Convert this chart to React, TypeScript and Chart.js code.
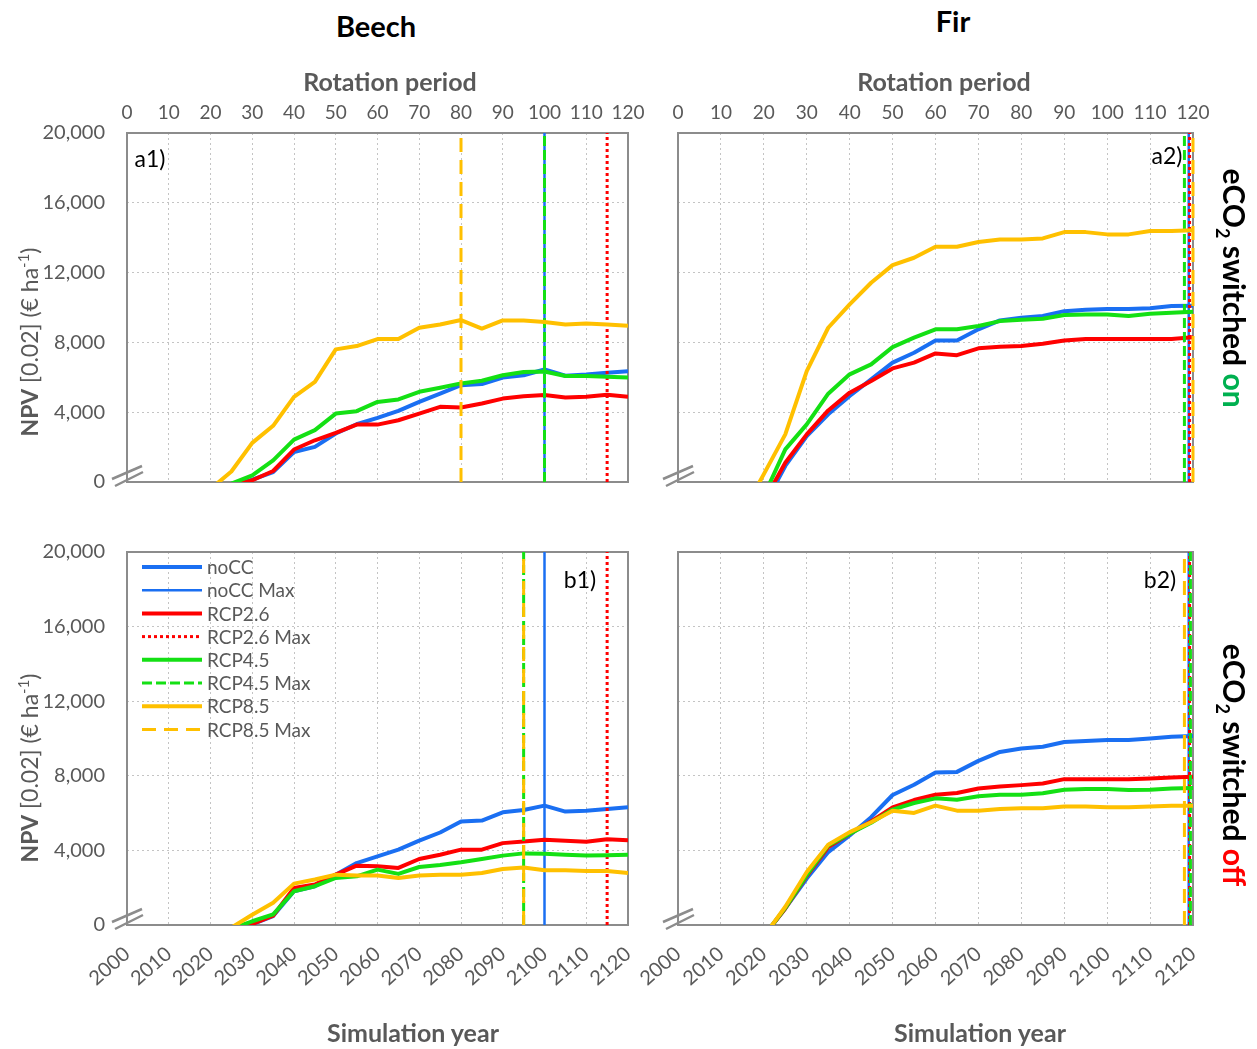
import { useEffect, useRef } from "react";
import { Chart, registerables } from "chart.js";

Chart.register(...registerables);

// Simulation years (rotation period = year - 2000)
const YEARS = [
  2015, 2020, 2025, 2030, 2035, 2040, 2045, 2050, 2055, 2060, 2065,
  2070, 2075, 2080, 2085, 2090, 2095, 2100, 2105, 2110, 2115, 2120,
];
const SCENARIOS = ["noCC", "RCP2.6", "RCP4.5", "RCP8.5"];
const COLORS = ["#1a6ff2", "#ff0000", "#14e014", "#ffc000"];
const MAX_DASH: number[][] = [[], [3, 3], [10, 4], [14, 8]];

// Beech, eCO2 switched on
const beechOnNoCC = [-800, -500, -200, 130, 570, 1720, 2010, 2780, 3310, 3670, 4080, 4590, 5070, 5550, 5610, 5990, 6120, 6450, 6090, 6160, 6260, 6350];
const beechOnRcp26 = [-800, -520, -230, 100, 630, 1860, 2390, 2810, 3290, 3290, 3540, 3920, 4310, 4270, 4500, 4780, 4920, 4980, 4840, 4880, 5000, 4880];
const beechOnRcp45 = [-700, -400, -95, 380, 1240, 2430, 2970, 3920, 4060, 4590, 4730, 5170, 5400, 5650, 5800, 6120, 6300, 6330, 6070, 6070, 6030, 5990];
const beechOnRcp85 = [-700, -400, 600, 2240, 3220, 4880, 5740, 7600, 7790, 8190, 8190, 8840, 9030, 9280, 8790, 9260, 9250, 9170, 9030, 9090, 9030, 8960];
const beechOnMax = [2100, 2115, 2100, 2080];

// Beech, eCO2 switched off
const beechOffNoCC = [-800, -500, -170, 40, 480, 1810, 2080, 2700, 3320, 3680, 4040, 4520, 4960, 5550, 5600, 6040, 6170, 6400, 6080, 6130, 6220, 6310];
const beechOffRcp26 = [-800, -500, -160, 50, 500, 1990, 2170, 2700, 3180, 3150, 3060, 3540, 3770, 4040, 4040, 4390, 4480, 4570, 4520, 4460, 4600, 4550];
const beechOffRcp45 = [-700, -450, -200, 200, 570, 1810, 2080, 2520, 2610, 2970, 2740, 3110, 3220, 3360, 3540, 3720, 3840, 3820, 3770, 3720, 3740, 3770];
const beechOffRcp85 = [-700, -420, -140, 550, 1190, 2220, 2440, 2700, 2650, 2650, 2520, 2650, 2700, 2700, 2790, 3000, 3080, 2930, 2930, 2900, 2900, 2790];
const beechOffMax = [2100, 2115, 2095, 2095];

// Fir, eCO2 switched on
const firOnNoCC = [-2500, -1380, 920, 2630, 3880, 4930, 5880, 6840, 7410, 8110, 8110, 8750, 9260, 9410, 9510, 9790, 9870, 9910, 9910, 9960, 10080, 10100];
const firOnRcp26 = [-2400, -1100, 1100, 2730, 4100, 5120, 5790, 6510, 6840, 7370, 7270, 7660, 7750, 7790, 7920, 8110, 8190, 8190, 8190, 8190, 8200, 8300];
const firOnRcp45 = [-2200, -800, 1870, 3300, 5060, 6170, 6740, 7730, 8270, 8750, 8750, 8940, 9220, 9300, 9360, 9570, 9600, 9600, 9510, 9640, 9700, 9760];
const firOnRcp85 = [-1800, 450, 2730, 6360, 8840, 10180, 11420, 12430, 12850, 13480, 13480, 13750, 13900, 13900, 13960, 14320, 14320, 14190, 14190, 14380, 14380, 14420];
const firOnMax = [2119, 2119.2, 2118, 2120];

// Fir, eCO2 switched off
const firOffNoCC = [-2000, -590, 890, 2490, 3910, 4800, 5780, 6970, 7520, 8180, 8210, 8800, 9280, 9460, 9560, 9810, 9870, 9920, 9920, 10000, 10100, 10130];
const firOffRcp26 = [-2000, -590, 890, 2630, 4180, 4890, 5550, 6310, 6700, 6990, 7080, 7320, 7430, 7500, 7590, 7820, 7820, 7820, 7820, 7860, 7910, 7950];
const firOffRcp45 = [-2000, -600, 920, 2670, 4270, 4890, 5480, 6190, 6540, 6790, 6720, 6900, 6990, 6990, 7060, 7250, 7290, 7290, 7240, 7250, 7320, 7340];
const firOffRcp85 = [-2000, -620, 980, 2840, 4300, 4980, 5510, 6130, 6010, 6400, 6130, 6130, 6220, 6260, 6260, 6360, 6360, 6310, 6310, 6360, 6400, 6400];
const firOffMax = [2119, 2119.2, 2119.4, 2118];

const FONT = "Lato, 'Open Sans', sans-serif";
const AXIS_GREY = "#595959";
const GRID_GREY = "#c4c4c4";

type Area = { left: number; top: number; right: number; bottom: number };

type PanelProps = {
  x: number;
  y: number;
  w: number;
  h: number;
  area: Area; // plot area in page coordinates
  series: number[][];
  maxYears: number[];
  axis: "top" | "bottom";
  yLabels: boolean;
  legend: boolean;
};

const framePlugin = {
  id: "frame",
  beforeDatasetsDraw(chart: any) {
    const { ctx, chartArea: a } = chart;
    ctx.save();
    ctx.strokeStyle = "#8c8c8c";
    ctx.lineWidth = 2;
    ctx.strokeRect(a.left, a.top, a.right - a.left, a.bottom - a.top);
    // axis break marks at the foot of the value axis
    ctx.lineWidth = 2.5;
    ctx.beginPath();
    ctx.moveTo(a.left - 15, a.bottom - 3);
    ctx.lineTo(a.left + 15, a.bottom - 16);
    ctx.moveTo(a.left - 12, a.bottom + 4);
    ctx.lineTo(a.left + 16, a.bottom - 10);
    ctx.stroke();
    ctx.restore();
  },
};

const legendPlugin = {
  id: "insideLegend",
  afterDatasetsDraw(chart: any) {
    const { ctx, chartArea: a } = chart;
    chart.data.datasets.forEach((ds: any, i: number) => {
      const y = a.top + 15 + i * 23.2;
      ctx.save();
      ctx.strokeStyle = ds.borderColor;
      ctx.lineWidth = ds.borderWidth;
      ctx.setLineDash(ds.borderDash || []);
      ctx.beginPath();
      ctx.moveTo(a.left + 15, y);
      ctx.lineTo(a.left + 75, y);
      ctx.stroke();
      ctx.setLineDash([]);
      ctx.fillStyle = AXIS_GREY;
      ctx.font = `19px ${FONT}`;
      ctx.textBaseline = "middle";
      ctx.fillText(ds.label, a.left + 80, y + 1);
      ctx.restore();
    });
  },
};

function Panel(p: PanelProps) {
  const ref = useRef<HTMLCanvasElement>(null);

  useEffect(() => {
    const canvas = ref.current;
    if (!canvas) return;
    const yWidth = p.area.left - p.x;
    const padRight = p.x + p.w - p.area.right;
    const topGap = p.area.top - p.y;
    const bottomGap = p.y + p.h - p.area.bottom;

    const datasets: any[] = [];
    SCENARIOS.forEach((name, s) => {
      datasets.push({
        label: name,
        data: YEARS.map((yr, i) => ({ x: yr, y: p.series[s][i] })),
        borderColor: COLORS[s],
        borderWidth: 4,
        pointRadius: 0,
        tension: 0,
        borderJoinStyle: "round",
        order: 20 - datasets.length,
      });
      datasets.push({
        label: `${name} Max`,
        data: [
          { x: p.maxYears[s], y: 0 },
          { x: p.maxYears[s], y: 20000 },
        ],
        borderColor: COLORS[s],
        borderWidth: s === 0 ? 2.5 : 3,
        borderDash: MAX_DASH[s],
        pointRadius: 0,
        clip: 6,
        order: 20 - datasets.length,
      });
    });

    const chart = new Chart(canvas, {
      type: "line",
      data: { datasets },
      options: {
        animation: false,
        responsive: false,
        devicePixelRatio: 1,
        layout: {
          padding: {
            left: 0,
            right: padRight,
            top: p.axis === "bottom" ? topGap : 0,
            bottom: p.axis === "top" ? bottomGap : 0,
          },
        },
        plugins: { legend: { display: false }, tooltip: { enabled: false } },
        scales: {
          x: {
            type: "linear",
            position: p.axis,
            min: 2000,
            max: 2120,
            afterFit: (scale: any) => {
              scale.height = p.axis === "top" ? topGap : bottomGap;
              scale.paddingLeft = 0;
              scale.paddingRight = 0;
            },
            ticks: {
              stepSize: 10,
              autoSkip: false,
              padding: p.axis === "top" ? 9 : 17,
              minRotation: p.axis === "top" ? 0 : 41,
              maxRotation: p.axis === "top" ? 0 : 41,
              color: AXIS_GREY,
              font: { family: FONT, size: p.axis === "top" ? 19 : 20 },
              callback: (v: any) => (p.axis === "top" ? String(Number(v) - 2000) : String(v)),
            },
            grid: { color: GRID_GREY, lineWidth: 1, drawTicks: false },
            border: { display: false, dash: [2, 3] },
          },
          y: {
            type: "linear",
            min: 0,
            max: 20000,
            afterFit: (scale: any) => {
              scale.width = yWidth;
              scale.paddingTop = 0;
              scale.paddingBottom = 0;
            },
            ticks: {
              stepSize: 4000,
              display: p.yLabels,
              padding: 22,
              color: AXIS_GREY,
              font: { family: FONT, size: 20 },
              callback: (v: any) => Number(v).toLocaleString("en-US"),
            },
            grid: { color: GRID_GREY, lineWidth: 1, drawTicks: false },
            border: { display: false, dash: [2, 3] },
          },
        },
      } as any,
      plugins: p.legend ? [framePlugin, legendPlugin] : [framePlugin],
    });
    return () => chart.destroy();
  }, []);

  return (
    <canvas
      ref={ref}
      width={p.w}
      height={p.h}
      style={{ position: "absolute", left: p.x, top: p.y, width: p.w, height: p.h }}
    />
  );
}

const textBase: any = {
  position: "absolute",
  whiteSpace: "nowrap",
  fontFamily: FONT,
  lineHeight: 1,
};

function Label(props: { x: number; y: number; rot?: number; style?: any; children: any }) {
  return (
    <div
      style={{
        ...textBase,
        left: props.x,
        top: props.y,
        transform: `translate(-50%, -50%) rotate(${props.rot || 0}deg)`,
        ...props.style,
      }}
    >
      {props.children}
    </div>
  );
}

const titleStyle = { fontWeight: 700, fontSize: 29, color: "#000" };
const axisTitleStyle = { fontWeight: 700, fontSize: 25, color: AXIS_GREY };
const tagStyle = { fontSize: 23, color: "#000" };
const sideStyle = { fontWeight: 700, fontSize: 30, color: "#000" };
const npvStyle = { fontSize: 23, color: AXIS_GREY };

function NpvTitle() {
  return (
    <span>
      <b>NPV</b> [0.02] (€ ha<sup style={{ fontSize: "0.65em" }}>-1</sup>)
    </span>
  );
}

export default function App() {
  const aArea1 = { left: 127, top: 133, right: 628, bottom: 482 };
  const aArea2 = { left: 678, top: 133, right: 1193, bottom: 482 };
  const bArea1 = { left: 127, top: 552, right: 628, bottom: 925 };
  const bArea2 = { left: 678, top: 552, right: 1193, bottom: 925 };

  return (
    <div
      style={{
        position: "fixed",
        left: 0,
        top: 0,
        width: 1257,
        height: 1049,
        background: "#fff",
        overflow: "hidden",
      }}
    >
      <Panel x={0} y={55} w={655} h={440} area={aArea1}
        series={[beechOnNoCC, beechOnRcp26, beechOnRcp45, beechOnRcp85]}
        maxYears={beechOnMax} axis="top" yLabels legend={false} />
      <Panel x={600} y={55} w={620} h={440} area={aArea2}
        series={[firOnNoCC, firOnRcp26, firOnRcp45, firOnRcp85]}
        maxYears={firOnMax} axis="top" yLabels={false} legend={false} />
      <Panel x={0} y={530} w={655} h={500} area={bArea1}
        series={[beechOffNoCC, beechOffRcp26, beechOffRcp45, beechOffRcp85]}
        maxYears={beechOffMax} axis="bottom" yLabels legend />
      <Panel x={600} y={530} w={620} h={500} area={bArea2}
        series={[firOffNoCC, firOffRcp26, firOffRcp45, firOffRcp85]}
        maxYears={firOffMax} axis="bottom" yLabels={false} legend={false} />

      <Label x={376} y={25} style={titleStyle}>Beech</Label>
      <Label x={953} y={20} style={titleStyle}>Fir</Label>

      <Label x={390} y={81} style={axisTitleStyle}>Rotation period</Label>
      <Label x={944} y={81} style={axisTitleStyle}>Rotation period</Label>
      <Label x={413} y={1032} style={axisTitleStyle}>Simulation year</Label>
      <Label x={980} y={1032} style={axisTitleStyle}>Simulation year</Label>

      <Label x={28} y={342} rot={-90} style={npvStyle}><NpvTitle /></Label>
      <Label x={28} y={768} rot={-90} style={npvStyle}><NpvTitle /></Label>

      <Label x={1232} y={288} rot={90} style={sideStyle}>
        eCO<sub style={{ fontSize: "0.6em" }}>2</sub> switched <span style={{ color: "#00b050" }}>on</span>
      </Label>
      <Label x={1232} y={765} rot={90} style={sideStyle}>
        eCO<sub style={{ fontSize: "0.6em" }}>2</sub> switched <span style={{ color: "#ff0000" }}>off</span>
      </Label>

      <Label x={150} y={158} style={tagStyle}>a1)</Label>
      <Label x={1167} y={155} style={tagStyle}>a2)</Label>
      <Label x={580} y={579} style={tagStyle}>b1)</Label>
      <Label x={1160} y={579} style={tagStyle}>b2)</Label>
    </div>
  );
}
